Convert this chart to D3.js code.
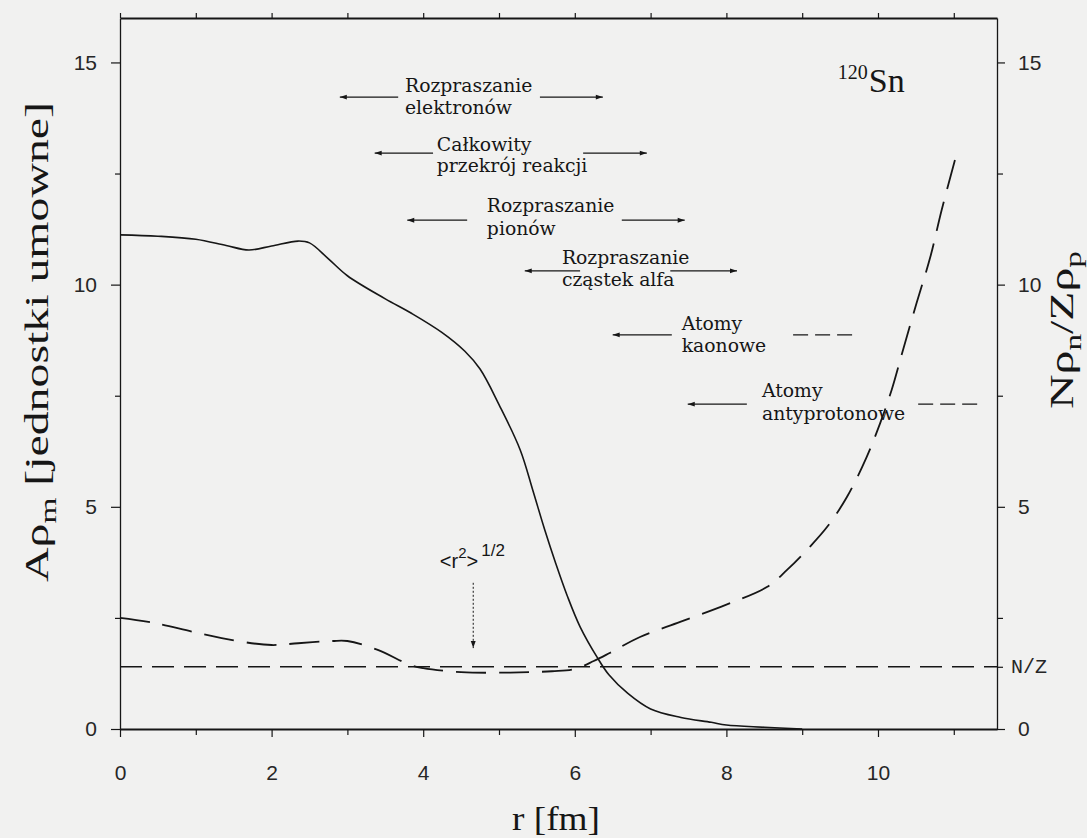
<!DOCTYPE html>
<html><head><meta charset="utf-8">
<script src="https://cdn.jsdelivr.net/npm/d3@7"></script>
<style>
html,body{margin:0;padding:0;background:#f1f1f0;}
svg{display:block;}
</style></head>
<body>
<svg id="chart" width="1087" height="838"></svg>
<script>
// ---- data ----
const densityR   = [0,0.5,1.0,1.4,1.7,2.0,2.35,2.5,2.75,3.0,3.5,3.85,4.25,4.55,4.75,5.0,5.28,5.45,5.6,5.75,5.9,6.07,6.3,6.45,6.7,7.0,7.4,7.8,8.0,8.5,9.0];
const densityVal = [11.12,11.09,11.02,10.88,10.78,10.87,10.98,10.94,10.58,10.2,9.68,9.35,8.92,8.5,8.1,7.3,6.28,5.35,4.5,3.72,3.0,2.3,1.6,1.22,0.8,0.45,0.26,0.15,0.09,0.04,0.0];
const ratioR     = [0,0.44,1.03,1.62,2.0,2.35,2.8,3.0,3.4,3.83,4.0,4.5,5.15,5.7,6.0,6.25,6.46,6.86,7.39,8.0,8.54,8.8,9.1,9.33,9.59,9.85,10.03,10.18,10.33,10.51,10.69,10.84,11.04];
const ratioVal   = [2.5,2.39,2.16,1.96,1.89,1.93,1.98,1.98,1.78,1.44,1.37,1.28,1.27,1.3,1.35,1.53,1.71,2.07,2.41,2.8,3.2,3.58,4.1,4.55,5.22,6.12,6.89,7.63,8.53,9.59,10.62,11.68,12.96];
const nOverZ = 1.4;
const xMajorTicks = [0,2,4,6,8,10];
const xMinorTicks = [1,3,5,7,9,11];
const yMajorTicks = [0,5,10,15];
const yMinorTicks = [2.5,7.5,12.5];
// annotations: [line1, line2, textR, baseV1, baseV2, arrowV, leftFrom, leftTo, rightFrom, rightTo, rightStyle]
const methodLabels = [
  ["Rozpraszanie","elektronów",3.76,14.33,13.84,14.22,2.90,3.67,5.54,6.37,"arrow"],
  ["Całkowity","przekrój reakcji",4.18,13.0,12.53,12.96,3.36,4.13,6.11,6.95,"arrow"],
  ["Rozpraszanie","pionów",4.84,11.63,11.12,11.45,3.79,4.58,6.62,7.45,"arrow"],
  ["Rozpraszanie","cząstek alfa",5.83,10.46,9.97,10.31,5.34,6.07,7.26,8.14,"arrow"],
  ["Atomy","kaonowe",7.41,8.98,8.48,8.87,6.50,7.28,8.88,9.72,"dash"],
  ["Atomy","antyprotonowe",8.47,7.47,6.95,7.31,7.49,8.27,10.53,11.35,"dash"]
];

// ---- layout ----
const svg = d3.select("#chart");
const L = 120, R = 997, T = 18, B = 729;
const x = d3.scaleLinear().domain([0,11.57]).range([L,R]);
const y = d3.scaleLinear().domain([0,16]).range([B,T]);
const ink = "#161616";

svg.append("defs").append("marker")
  .attr("id","ah").attr("viewBox","0 0 10 10").attr("refX",10).attr("refY",5)
  .attr("markerWidth",9).attr("markerHeight",7).attr("markerUnits","userSpaceOnUse")
  .attr("orient","auto-start-reverse")
  .append("path").attr("d","M0,1.5 L10,5 L0,8.5 Z").attr("fill",ink);

// axes
const tickFont = "'Liberation Sans', Arial, sans-serif";
function styleAxis(g, w){
  g.select(".domain").attr("stroke",ink).attr("stroke-width",w);
  g.selectAll(".tick line").attr("stroke",ink).attr("stroke-width",1.2);
  g.selectAll(".tick text").attr("fill","#262626").attr("font-family",tickFont).attr("font-size",21);
}
const gb = svg.append("g").attr("transform",`translate(0,${B})`)
  .call(d3.axisBottom(x).tickValues(xMajorTicks).tickSize(8).tickPadding(28).tickSizeOuter(0).tickFormat(d3.format("d")));
styleAxis(gb,2);
svg.append("g").attr("transform",`translate(0,${B})`)
  .call(d3.axisBottom(x).tickValues(xMinorTicks).tickSize(6).tickFormat("").tickSizeOuter(0))
  .call(g=>{g.select(".domain").remove();g.selectAll("line").attr("stroke",ink).attr("stroke-width",1.2);});
const gt = svg.append("g").attr("transform",`translate(0,${T})`)
  .call(d3.axisTop(x).tickValues(xMajorTicks.concat(xMinorTicks)).tickSize(5).tickFormat("").tickSizeOuter(0));
styleAxis(gt,2);
const gl = svg.append("g").attr("transform",`translate(${L},0)`)
  .call(d3.axisLeft(y).tickValues(yMajorTicks).tickSize(9).tickPadding(14).tickSizeOuter(0));
styleAxis(gl,1.3);
svg.append("g").attr("transform",`translate(${L},0)`)
  .call(d3.axisLeft(y).tickValues(yMinorTicks).tickSize(5).tickFormat("").tickSizeOuter(0))
  .call(g=>{g.select(".domain").remove();g.selectAll("line").attr("stroke",ink).attr("stroke-width",1.2);});
const gr = svg.append("g").attr("transform",`translate(${R},0)`)
  .call(d3.axisRight(y).tickValues(yMajorTicks).tickSize(8).tickPadding(13).tickSizeOuter(0));
styleAxis(gr,1.3);
svg.append("g").attr("transform",`translate(${R},0)`)
  .call(d3.axisRight(y).tickValues(yMinorTicks.concat([nOverZ])).tickSize(6).tickFormat("").tickSizeOuter(0))
  .call(g=>{g.select(".domain").remove();g.selectAll("line").attr("stroke",ink).attr("stroke-width",1.2);});
svg.append("text").attr("x",R+14).attr("y",y(nOverZ)+6)
  .attr("font-family","'Liberation Mono', 'DejaVu Sans Mono', monospace").attr("font-size",20)
  .attr("fill","#262626").text("N/Z");

// curves
const line = d3.line().x(d=>x(d[0])).y(d=>y(d[1])).curve(d3.curveCatmullRom.alpha(0.5));
svg.append("path").datum(densityR.map((r,i)=>[r,densityVal[i]]))
  .attr("d",line).attr("fill","none").attr("stroke",ink).attr("stroke-width",1.6);
svg.append("path").datum(ratioR.map((r,i)=>[r,ratioVal[i]]))
  .attr("d",line).attr("fill","none").attr("stroke",ink).attr("stroke-width",1.8)
  .attr("stroke-dasharray","30,13");
svg.append("line").attr("x1",x(0)).attr("x2",R).attr("y1",y(nOverZ)).attr("y2",y(nOverZ))
  .attr("stroke",ink).attr("stroke-width",1.5).attr("stroke-dasharray","22,10");

// annotations
const annFont = "'DejaVu Serif', serif";
methodLabels.forEach(a=>{
  const [t1,t2,tr,b1,b2,av,lf,lt,rf,rt,style] = a;
  svg.append("text").attr("x",x(tr)).attr("y",y(b1)).attr("font-family",annFont)
    .attr("font-size",18.8).attr("fill",ink).text(t1);
  svg.append("text").attr("x",x(tr)).attr("y",y(b2)).attr("font-family",annFont)
    .attr("font-size",18.8).attr("fill",ink).text(t2);
  svg.append("line").attr("x1",x(lt)).attr("x2",x(lf)).attr("y1",y(av)).attr("y2",y(av))
    .attr("stroke",ink).attr("stroke-width",1.3).attr("marker-end","url(#ah)");
  const rl = svg.append("line").attr("x1",x(rf)).attr("x2",x(rt)).attr("y1",y(av)).attr("y2",y(av))
    .attr("stroke",ink).attr("stroke-width",1.3);
  if(style==="arrow") rl.attr("marker-end","url(#ah)");
  else rl.attr("stroke-dasharray","15,7,15,7,15,7,2,7");
});

// isotope label
const iso = svg.append("text").attr("x",x(9.47)).attr("y",y(14.33))
  .attr("font-family","'Liberation Serif', 'Times New Roman', serif").attr("fill",ink);
iso.append("tspan").attr("font-size",20).attr("dy",-13).text("120");
iso.append("tspan").attr("font-size",34).attr("dy",13).attr("dx",1).text("Sn");

// rms radius label + dotted arrow
const rms = svg.append("text").attr("x",x(4.22)).attr("y",y(3.62))
  .attr("font-family","'Liberation Sans', Arial, sans-serif").attr("fill",ink).attr("font-size",20);
rms.append("tspan").text("<r");
rms.append("tspan").attr("font-size",15).attr("dy",-10).text("2");
rms.append("tspan").attr("dy",10).text(">");
rms.append("tspan").attr("font-size",17).attr("dy",-12).attr("dx",3).text("1/2");
svg.append("line").attr("x1",x(4.66)).attr("x2",x(4.66)).attr("y1",y(3.29)).attr("y2",y(1.82))
  .attr("stroke",ink).attr("stroke-width",1).attr("stroke-dasharray","2,2").attr("marker-end","url(#ah)");

// axis titles
const serif = "'Liberation Serif', 'Times New Roman', serif";
const yl = svg.append("text").attr("transform",`translate(48,342) rotate(-90)`)
  .attr("text-anchor","middle").attr("font-family",serif).attr("font-size",33).attr("fill",ink)
  .attr("textLength",480).attr("lengthAdjust","spacingAndGlyphs");
yl.append("tspan").text("Aρ");
yl.append("tspan").attr("font-size",23).attr("dy",8).text("m");
yl.append("tspan").attr("dy",-8).text(" [jednostki umowne]");
const yr = svg.append("text").attr("transform",`translate(1073,330) rotate(-90)`)
  .attr("text-anchor","middle").attr("font-family",serif).attr("font-size",33).attr("fill",ink)
  .attr("textLength",158).attr("lengthAdjust","spacingAndGlyphs");
yr.append("tspan").text("Nρ");
yr.append("tspan").attr("font-size",23).attr("dy",8).text("n");
yr.append("tspan").attr("dy",-8).text("/Zρ");
yr.append("tspan").attr("font-size",23).attr("dy",8).text("p");
svg.append("text").attr("x",556).attr("y",830).attr("text-anchor","middle")
  .attr("font-family",serif).attr("font-size",33).attr("fill",ink)
  .attr("textLength",88).attr("lengthAdjust","spacingAndGlyphs").text("r [fm]");
</script>
</body></html>
